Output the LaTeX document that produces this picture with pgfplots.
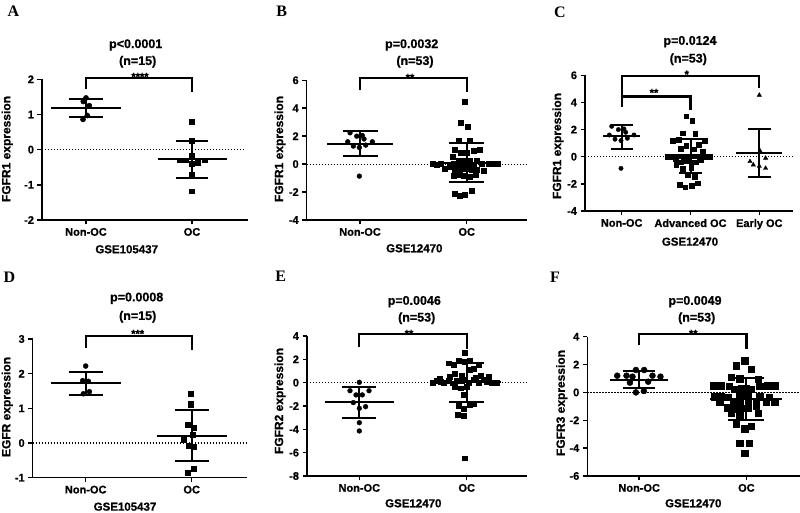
\documentclass[border=0pt]{standalone}
\usepackage{pgfplots}
\pgfplotsset{compat=1.18}
\usepackage{fontspec}
\setmainfont{Liberation Sans}[BoldFeatures={FakeBold=0.8}]
\newfontfamily\serifb{Liberation Serif}
\newcommand\fs[1]{\fontsize{#1}{#1}\selectfont}

\pgfplotsset{
 panel/.style={
   scale only axis, anchor=south west, clip=false,
   axis x line*=bottom, axis y line*=left,
   axis line style={line width=1.5pt, black},
   every tick/.style={line width=1.5pt, black},
   major tick length=4.5pt,
   tick align=outside,
   tick label style={font=\bfseries\fs{11}},
   /pgf/number format/assume math mode=true,
   enlargelimits=false,
 },
 dotz/.style={black, line width=1.2pt, dash pattern=on 1.2pt off 1.8pt},
 brk/.style={black, line width=2.2pt},
 circ/.style={only marks, mark=*, mark size=#1, black, mark options={fill=black, draw=none}},
 sq/.style={only marks, mark=square*, mark size=#1, black, mark options={fill=black, draw=none}},
 tri/.style={only marks, mark=triangle*, mark size=#1, black, mark options={fill=black, draw=none}},
}

% #1 category, #2 mean, #3 upper, #4 lower, #5 half-width of mean line (px), #6 half-width of caps (px)
\newcommand\msd[6]{%
  \pgfmathsetmacro\xa{#1-#5/\spc}\pgfmathsetmacro\xb{#1+#5/\spc}%
  \pgfmathsetmacro\xc{#1-#6/\spc}\pgfmathsetmacro\xd{#1+#6/\spc}%
  \edef\tmp{\noexpand\addplot[black, line width=2pt] coordinates {(\xa,#2) (\xb,#2)};
  \noexpand\addplot[black, line width=2pt] coordinates {(#1,#3) (#1,#4)};
  \noexpand\addplot[black, line width=2pt] coordinates {(\xc,#3) (\xd,#3)};
  \noexpand\addplot[black, line width=2pt] coordinates {(\xc,#4) (\xd,#4)};}\tmp}

\begin{document}
\begin{tikzpicture}[x=1pt,y=1pt]
\useasboundingbox (0,0) rectangle (800,513);

% ---------------- A ----------------
\def\spc{106}
\begin{axis}[panel, at={(42pt,293pt)}, width=206pt, height=140.7pt,
  xmin=0.585, xmax=2.528, ymin=-2, ymax=2,
  xtick={1,2}, xticklabels={Non-OC, OC}, ytick={-2,-1,0,1,2}]
\addplot[dotz] coordinates {(0.585,0) (2.5,0)};
\addplot[circ=2.6pt] table[x expr=1+\thisrow{d}/106, y=y, row sep=\\]{d y\\
0 1.47\\ -2.7 1.37\\ 3.3 1.25\\ 1.3 0.97\\ -3 0.86\\};
\addplot[sq=2.4pt] table[x expr=2+\thisrow{d}/106, y=y, row sep=\\]{d y\\
0 0.79\\ 0 0.25\\ 0 -0.16\\ -12.7 -0.3\\ -6.7 -0.3\\ 0 -0.41\\ 5.7 -0.37\\ 12.3 -0.3\\ 0 -0.72\\ 0 -1.18\\};
\msd{1}{1.18}{1.44}{0.92}{34.5}{17}
\msd{2}{-0.28}{0.25}{-0.8}{34.5}{16}
\addplot[brk] coordinates {(1,1.71) (1,2.04) (2,2.04) (2,1.64)};
\end{axis}

% ---------------- B ----------------
\def\spc{106.7}
\begin{axis}[panel, at={(306.7pt,293pt)}, width=220.3pt, height=139.7pt,
  xmin=0.5, xmax=2.565, ymin=-4, ymax=6,
  xtick={1,2}, xticklabels={Non-OC, OC}, ytick={-4,-2,0,2,4,6}]
\addplot[dotz] coordinates {(0.5,0) (2.565,0)};
\addplot[circ=2.4pt] table[x expr=1+\thisrow{d}/106.7, y=y, row sep=\\]{d y\\
-10 2.24\\ -3.3 2.0\\ 2.3 2.05\\ -12.3 1.6\\ 12.3 1.6\\ -6.7 1.29\\ -0.7 1.19\\ 5.7 1.36\\ 4 1.8\\ -0.7 -0.86\\};
\addplot[sq=2.5pt] table[x expr=2+\thisrow{d}/106.7, y=y, row sep=\\]{d y\\
-2.3 4.5\\ -6 2.98\\ 1 2.67\\ -8.3 1.71\\ 3.3 1.67\\ -11.7 1.05\\ 12.7 1.05\\ -6 0.83\\ 0 0.83\\ 6.7 0.93\\
-14.3 0.52\\ -8.3 0.21\\ -2.3 0.21\\ 3.3 0.21\\ 10 0.24\\
-34 0.02\\ -30 -0.03\\ -25.7 0\\ -13.3 0.05\\ -8.3 -0.05\\ -3.3 0\\ 1.7 0.03\\ 6.7 -0.02\\ 15 0.02\\ 21.7 0\\ 26.7 0.03\\ 30.7 0\\
-21.7 -0.3\\ -16.7 -0.2\\ -11.7 -0.4\\ -6.7 -0.4\\ -0.7 -0.35\\ 5 -0.4\\ 10 -0.38\\ 16.7 -0.5\\
-13.3 -0.8\\ -8.3 -0.75\\ -2.7 -0.8\\ 3.3 -0.9\\ 9.3 -0.75\\
-11.7 -2.14\\ -6.7 -2.29\\ -1.7 -2.21\\ 5 -1.93\\};
\msd{1}{1.45}{2.38}{0.57}{33}{17.5}
\msd{2}{0.07}{1.48}{-1.26}{34.5}{17.5}
\addplot[brk] coordinates {(1,5.29) (1,6.16) (2,6.16) (2,5.17)};
\end{axis}

% ---------------- C ----------------
\def\spc{68.8}
\begin{axis}[panel, at={(585pt,302pt)}, width=208.3pt, height=135.7pt,
  xmin=0.467, xmax=3.494, ymin=-4, ymax=6,
  xtick={1,2,3}, xticklabels={Non-OC, Advanced OC, Early OC}, ytick={-4,-2,0,2,4,6}]
\addplot[dotz] coordinates {(0.467,0) (3.494,0)};
\addplot[circ=2.2pt] table[x expr=1+\thisrow{d}/68.8, y=y, row sep=\\]{d y\\
-10 2.24\\ -3.3 2.0\\ 2.3 2.05\\ -12.3 1.6\\ 12.3 1.6\\ -6.7 1.29\\ -0.7 1.19\\ 5.7 1.36\\ 4 1.8\\ -0.7 -0.86\\};
\addplot[sq=2.3pt] table[x expr=2+\thisrow{d}/68.8, y=y, row sep=\\]{d y\\
-4.3 3.0\\ 1.7 2.64\\ -7.7 1.74\\ 4.7 1.69\\ -17.7 1.19\\ -12 1.26\\ 14 1.19\\ -4.3 0.83\\ 3.3 0.54\\ 8.3 0.9\\
-22.7 0.02\\ -17.7 0\\ -12.7 0.03\\ -6.7 0.02\\ -1.7 0\\ 4 0.03\\ 9 0.02\\ 14 0\\ 19 0.02\\
-14.3 -0.57\\ -9.3 -0.41\\ -4.3 -0.34\\ 0.7 -0.41\\ 5.7 -0.41\\
-7.7 -0.88\\ 0.7 -0.81\\ -2.7 -1.36\\ 4 -1.48\\
-11 -2.07\\ -5.3 -2.24\\ 1.3 -2.14\\ 7.3 -1.95\\
-10 0.6\\ 10 -0.2\\ -15 -0.15\\ 12 0.35\\};
\addplot[tri=2.5pt] table[x expr=3+\thisrow{d}/68.8, y=y, row sep=\\]{d y\\
0 4.54\\ 0.7 0.43\\ -9.3 -0.35\\ -6 -0.6\\ 6.3 -0.1\\ 0 -0.7\\ 6.3 -0.85\\};
\msd{1}{1.5}{2.37}{0.56}{18.7}{11}
\msd{2}{0.07}{1.31}{-1.19}{21.7}{11.3}
\msd{3}{0.24}{2.02}{-1.53}{23}{11.3}
\addplot[brk] coordinates {(1,3.64) (1,5.95) (3,5.95) (3,5.07)};
\addplot[brk] coordinates {(1,4.43) (2,4.43) (2,3.47)};
\end{axis}

% ---------------- D ----------------
\def\spc{106}
\begin{axis}[panel, at={(32.7pt,35.3pt)}, width=214.3pt, height=138.7pt,
  xmin=0.5, xmax=2.522, ymin=-1, ymax=3,
  xtick={1,2}, xticklabels={Non-OC, OC}, ytick={-1,0,1,2,3}]
\addplot[dotz] coordinates {(0.5,0) (2.522,0)};
\addplot[circ=2.5pt] table[x expr=1+\thisrow{d}/106, y=y, row sep=\\]{d y\\
0 2.22\\ -3 1.8\\ 2.7 1.78\\ -2.3 1.42\\ 3.7 1.48\\};
\addplot[sq=2.6pt] table[x expr=2+\thisrow{d}/106, y=y, row sep=\\]{d y\\
-1 1.43\\ -1 1.12\\ -4.3 0.53\\ 2.3 0.44\\ 1 0.24\\ -7.7 0.1\\ -3.3 -0.08\\ 2.3 -0.1\\ -4.3 -0.86\\ 2.3 -0.75\\};
\msd{1}{1.72}{2.05}{1.38}{35}{17}
\msd{2}{0.21}{0.95}{-0.52}{35}{17}
\addplot[brk] coordinates {(1,2.75) (1,3.09) (2,3.09) (2,2.69)};
\end{axis}

% ---------------- E ----------------
\def\spc{107.4}
\begin{axis}[panel, at={(307pt,37pt)}, width=220pt, height=140pt,
  xmin=0.513, xmax=2.561, ymin=-8, ymax=4,
  xtick={1,2}, xticklabels={Non-OC, OC}, ytick={-8,-6,-4,-2,0,2,4}]
\addplot[dotz] coordinates {(0.513,0) (2.561,0)};
\addplot[circ=2.4pt] table[x expr=1+\thisrow{d}/107.4, y=y, row sep=\\]{d y\\
0 0.03\\ -9.3 -0.69\\ 9.7 -0.69\\ -3.3 -1.05\\ 3 -1.05\\ -6 -1.71\\ 6.3 -2.06\\ 0 -2.2\\ 0 -3.43\\ 0 -4.14\\};
\addplot[sq=2.4pt] table[x expr=2+\thisrow{d}/107.4, y=y, row sep=\\]{d y\\
-2.3 2.6\\ -18.3 1.66\\ -13.3 1.52\\ -8.3 1.89\\ -2.3 1.8\\ 3.3 1.89\\ 11.7 1.57\\
-11.7 0.8\\ 3.3 1.09\\ 6.7 1.17\\ -5 0.6\\ -26.7 0.37\\ 21.7 0.51\\
-34 0.03\\ -30 0.15\\ -22.7 0.03\\ -18.3 0.15\\ -14.3 -0.05\\ -10 0.15\\ -5 0.15\\ 1.7 0.03\\ 6.7 0.23\\ 11.7 0.03\\ 16.7 0.23\\ 25 0.03\\ 30 0.03\\
-11.7 -0.34\\ -6 -0.48\\ 0 -0.34\\ -3.3 -1.0\\
-8.3 -1.97\\ -2.7 -2.2\\ 3.3 -1.91\\ 6.7 -1.85\\ -9.3 -2.77\\ -3.3 -2.83\\ -2.3 -6.48\\
-26 0.1\\ 20 0.1\\ -3 0.3\\ 9 0.4\\ -17 0.5\\ 14 0.6\\};
\msd{1}{-1.7}{-0.35}{-3.0}{34.5}{17}
\msd{2}{0.03}{1.66}{-1.63}{34.7}{17.5}
\addplot[brk] coordinates {(1,3.09) (1,4.15) (2,4.15) (2,2.86)};
\end{axis}

% ---------------- F ----------------
\def\spc{107.4}
\begin{axis}[panel, at={(587.3pt,37pt)}, width=212.7pt, height=139.3pt,
  xmin=0.516, xmax=2.5, ymin=-6, ymax=4,
  xtick={1,2}, xticklabels={Non-OC, OC}, ytick={-6,-4,-2,0,2,4}]
\addplot[dotz] coordinates {(0.516,0) (2.5,0)};
\addplot[circ=3pt] table[x expr=1+\thisrow{d}/107.4, y=y, row sep=\\]{d y\\
-3.3 1.61\\ 5 1.61\\ -22 1.2\\ -12.7 1.2\\ -6.7 1.13\\ 13.3 1.2\\ 21.3 1.13\\ -9.3 0.7\\ 9 0.77\\ -3.3 0.0\\ 4.7 0.1\\};
\addplot[sq=3.1pt] table[x expr=2+\thisrow{d}/107.4, y=y, row sep=\\]{d y\\
-1.7 2.28\\ -10 1.92\\ 5 1.68\\ -15 1.08\\ 11.7 0.96\\ -6.7 0.99\\
-32.7 0.48\\ -25 0.48\\ -17.3 0.45\\ 13.3 0.45\\ 20.7 0.48\\ 28.3 0.48\\
-11.7 0.24\\ -5 0.27\\ 0 0.3\\ 5 0.24\\
-31.7 -0.31\\ -25 -0.31\\ -18.3 -0.35\\ -6.7 -0.25\\ -1.7 -0.25\\ 1.7 -0.28\\ 13.3 -0.31\\ 22.7 -0.36\\
-26.7 -0.71\\ -13.3 -0.68\\ -6.7 -0.71\\ 1.7 -0.68\\ 10 -0.75\\ 20 -0.71\\ 28.3 -0.71\\
-19.3 -1.1\\ -12.7 -1.2\\ -5 -1.12\\ 1.7 -1.1\\ 10 -0.95\\
-15 -1.5\\ -6.7 -1.6\\ 11.7 -1.5\\
-10 -2.3\\ -1.7 -2.6\\ 5 -2.4\\
-6.7 -3.66\\ 2.7 -3.66\\ -1.7 -4.37\\};
\msd{1}{0.89}{1.54}{0.34}{29}{16}
\msd{2}{-0.45}{1.0}{-1.98}{36}{18}
\addplot[brk] coordinates {(1,3.4) (1,4.17) (2,4.17) (2,3.09)};
\end{axis}

% ---------------- texts ----------------
\begin{scope}[every node/.style={inner sep=0pt}]
\node[font=\serifb\bfseries\fs{16}] at (13.3,501.3) {A};
\node[font=\serifb\bfseries\fs{16}] at (281.7,501.3) {B};
\node[font=\serifb\bfseries\fs{16}] at (560,501) {C};
\node[font=\serifb\bfseries\fs{16}] at (9.3,235.3) {D};
\node[font=\serifb\bfseries\fs{16}] at (280.7,237) {E};
\node[font=\serifb\bfseries\fs{16}] at (555,235.7) {F};

\begin{scope}[every node/.append style={font=\bfseries\fs{12.5}}]
\node at (135.7,468) {p<0.0001}; \node at (137.7,451.3) {(n=15)};
\node at (411.7,468) {p=0.0032}; \node at (415,451.3) {(n=53)};
\node at (690,471.3) {p=0.0124}; \node at (688.3,453.7) {(n=53)};
\node at (136.7,214.7) {p=0.0008}; \node at (137.7,196.3) {(n=15)};
\node at (414.3,211.3) {p=0.0046}; \node at (416.7,194.7) {(n=53)};
\node at (695,211.3) {p=0.0049}; \node at (696.7,194.7) {(n=53)};
\end{scope}

\begin{scope}[every node/.append style={font=\bfseries\fs{11}, anchor=base}]
\node at (140,432.5) {****};
\node at (410,431.5) {**};
\node at (686.7,434.8) {*};
\node at (654,416.5) {**};
\node at (137.7,175.5) {***};
\node at (409,175.5) {**};
\node at (693.3,175.5) {**};
\end{scope}

\begin{scope}[every node/.append style={font=\bfseries\fs{12}, rotate=90}]
\node at (7.3,364) {FGFR1 expression};
\node at (280,364) {FGFR1 expression};
\node at (558,367) {FGFR1 expression};
\node at (7.3,106) {EGFR expression};
\node at (280,112) {FGFR2 expression};
\node at (561.7,110) {FGFR3 expression};
\end{scope}

\begin{scope}[every node/.append style={font=\bfseries\fs{11.5}}]
\node at (126.7,263.7) {GSE105437};
\node at (414.3,264.7) {GSE12470};
\node at (690,271.3) {GSE12470};
\node at (125,6.3) {GSE105437};
\node at (413.3,9.7) {GSE12470};
\node at (693.3,9.7) {GSE12470};
\end{scope}
\end{scope}
\end{tikzpicture}
\end{document}
